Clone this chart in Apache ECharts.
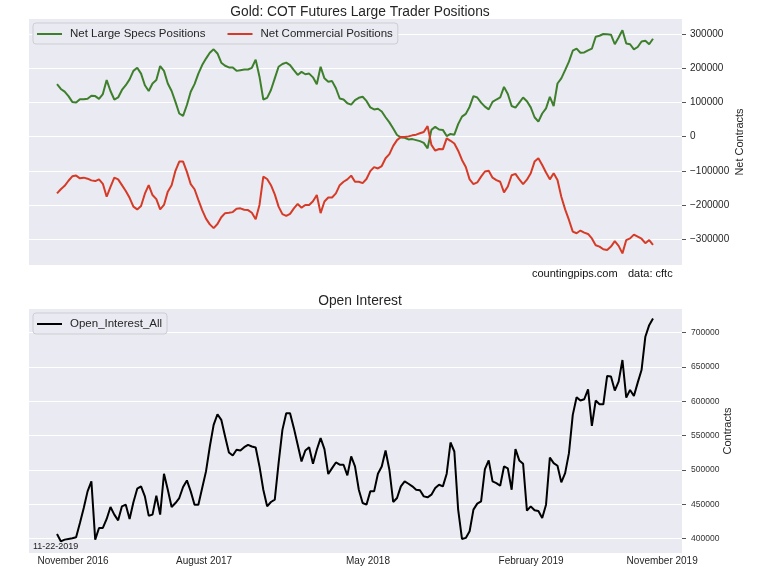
<!DOCTYPE html>
<html>
<head>
<meta charset="utf-8">
<script src="https://cdn.jsdelivr.net/npm/echarts@6/dist/echarts.min.js"></script>
<style>
  html, body { margin: 0; padding: 0; background: #fff; }
  #chart { width: 762px; height: 576px; }
</style>
</head>
<body>
<div id="chart"></div>
<script>
// weekly COT readings, thousands of contracts (Nov 2016 -> Nov 2019)
var largeSpecs = [
  154, 140, 132, 119, 102, 100, 110, 110, 111, 120,
  119, 111, 125, 166, 134, 109, 115, 137, 151, 168,
  193, 202, 185, 151, 134, 156, 166, 207, 193, 156,
  134, 102, 68, 61, 93, 132, 154, 185, 210, 229,
  246, 256, 244, 217, 208, 203, 203, 193, 195, 197,
  197, 202, 226, 176, 109, 114, 137, 171, 205, 213,
  217, 210, 195, 181, 190, 183, 185, 174, 154, 205,
  171, 161, 163, 142, 112, 109, 98, 94, 107, 114,
  117, 105, 86, 80, 82, 74, 57, 42, 24, 5,
  -2, -3, -8, -7, -10, -13, -18, -34, 20, 29,
  21, 20, 2, 8, 6, 37, 59, 67, 88, 119,
  115, 100, 88, 80, 102, 109, 115, 146, 125, 90,
  85, 100, 115, 104, 86, 57, 44, 68, 83, 117,
  90, 156, 171, 195, 220, 252, 258, 246, 247, 253,
  258, 293, 296, 301, 300, 299, 271, 291, 312, 273,
  271, 256, 263, 279, 281, 271, 287
];

var commercial = [
  -166, -154, -144, -129, -116, -114, -122, -120, -123, -128,
  -130, -125, -138, -176, -147, -120, -125, -142, -159, -179,
  -205, -213, -203, -167, -142, -171, -183, -213, -200, -161,
  -142, -100, -73, -73, -103, -139, -154, -185, -215, -240,
  -257, -268, -256, -236, -224, -223, -221, -211, -210, -214,
  -215, -223, -242, -200, -117, -124, -142, -169, -205, -227,
  -232, -226, -210, -197, -208, -200, -200, -189, -171, -224,
  -190, -178, -178, -166, -142, -132, -125, -114, -132, -132,
  -136, -124, -101, -89, -93, -86, -63, -51, -27, -10,
  -1, -1, 1, 4, 6, 10, 14, 31, -24, -41,
  -36, -37, -5, -12, -20, -41, -68, -89, -125, -139,
  -134, -117, -102, -100, -120, -127, -132, -163, -146, -113,
  -109, -125, -139, -126, -107, -73, -63, -83, -105, -125,
  -107, -127, -176, -213, -244, -278, -283, -275, -281, -285,
  -298, -318, -322, -330, -332, -322, -306, -320, -342, -303,
  -298, -287, -293, -299, -312, -303, -317
];

var openInterest = [
  406.8, 396, 398.5, 399.5, 400.5, 402, 422.8, 444.6, 468.8, 483.3,
  398.5, 415.5, 415.5, 428.6, 446, 434.9, 426.6, 447, 449.4, 428.6,
  452.8, 472.7, 476.1, 461.5, 433.4, 434.9, 462.5, 434.9, 494.5, 471.2,
  446, 451.8, 459.1, 475.1, 484.8, 468.8, 449.4, 449.4, 473.6, 497.9,
  534.2, 565.7, 581.2, 573, 548.7, 525.5, 521.1, 529.4, 528.4, 533.2,
  536.6, 534.2, 532.8, 505.1, 471.2, 447, 453.3, 456.7, 510, 558.4,
  582.7, 582.7, 560.9, 536.6, 512.4, 528.4, 533.2, 509, 529.4, 546.3,
  530.3, 494, 502.7, 510.9, 507.6, 507.6, 492.1, 519.7, 505.1, 471.2,
  451.8, 449.4, 468.8, 468.8, 494.5, 505.1, 528.4, 500.3, 453.3, 459.1,
  476.1, 483.3, 479.9, 476.1, 471.2, 470.3, 461.5, 460.1, 464, 473.6,
  478.5, 476.1, 494.5, 540, 526.9, 442.2, 399.5, 401, 410.7, 442.2,
  450.9, 454.3, 501.3, 513.9, 483.3, 480.9, 477, 505.1, 502.2, 471.2,
  530.3, 513.9, 509, 440.7, 447, 441.2, 440.2, 430, 449.4, 518.2,
  510, 506.1, 481.9, 495.4, 524.5, 580.2, 605.9, 601.1, 603, 617.5,
  564.2, 601.1, 595.7, 595.7, 636.9, 636, 615.6, 628.7, 660.2, 605.4,
  616.6, 607.8, 627.2, 645.6, 694.1, 711, 720.7
];

// bottom date labels, placed at week index
var xTickPos = [4.2, 38.5, 81.4, 124.1, 158.4];
var xTickLabels = ['November 2016', 'August 2017', 'May 2018', 'February 2019', 'November 2019'];

var netTicks = [-300000, -200000, -100000, 0, 100000, 200000, 300000];
var oiTicks = [400000, 450000, 500000, 550000, 600000, 650000, 700000];

var BG = '#EAEAF2';
var TXT = '#262626';
var FONT = '"Liberation Sans", Arial, sans-serif';

var toPairs = (arr) => arr.map((v, i) => [i, Math.round(v * 1000)]);
var minus = (v) => String(v).replace('-', '\u2212');

var chart = echarts.init(document.getElementById('chart'), null, { renderer: 'canvas' });

var xBase = {
  type: 'value',
  min: -7.33,
  max: 163.59,
  axisLine: { show: false, onZero: false },
  axisTick: { show: false },
  splitLine: { show: false },
};

var legendBase = {
  left: 33,
  icon: 'rect',
  itemWidth: 25,
  itemHeight: 2,
  itemGap: 22,
  padding: [5, 5, 4, 4],
  backgroundColor: BG,
  borderColor: '#cdcdd3',
  borderWidth: 1,
  borderRadius: 3,
  textStyle: { fontSize: 11.5, color: TXT, fontFamily: FONT, padding: [0, 0, 0, 3] },
};

var option = {
  animation: false,
  textStyle: { fontFamily: FONT },
  title: [
    {
      text: 'Gold: COT Futures Large Trader Positions',
      left: 355, top: 0, textAlign: 'center',
      textStyle: { fontSize: 13.8, fontWeight: 'normal', color: TXT, fontFamily: FONT },
    },
    {
      text: 'Open Interest',
      left: 355, top: 289, textAlign: 'center',
      textStyle: { fontSize: 13.8, fontWeight: 'normal', color: TXT, fontFamily: FONT },
    },
  ],
  legend: [
    Object.assign({}, legendBase, {
      top: 23,
      data: ['Net Large Specs Positions', 'Net Commercial Positions'],
    }),
    Object.assign({}, legendBase, {
      top: 313,
      data: ['Open_Interest_All'],
    }),
  ],
  grid: [
    { left: 29, top: 19, width: 653, height: 246, show: true, backgroundColor: BG, borderWidth: 0 },
    { left: 29, top: 309, width: 653, height: 244, show: true, backgroundColor: BG, borderWidth: 0 },
  ],
  xAxis: [
    Object.assign({}, xBase, { gridIndex: 0, axisLabel: { show: false } }),
    Object.assign({}, xBase, {
      gridIndex: 1,
      axisLabel: {
        customValues: xTickPos,
        margin: 3,
        fontSize: 10,
        color: TXT,
        formatter: (v) => xTickLabels[xTickPos.indexOf(v)] || '',
      },
    }),
  ],
  yAxis: [
    {
      gridIndex: 0,
      type: 'value',
      position: 'right',
      min: -376000,
      max: 345000,
      axisLine: { show: false, onZero: false },
      axisTick: { show: true, length: 4, customValues: netTicks, lineStyle: { color: '#555' } },
      axisLabel: { customValues: netTicks, fontSize: 10, color: TXT, margin: 8, formatter: minus },
      splitLine: { show: true, lineStyle: { color: '#fff', width: 1.2 } },
      name: 'Net Contracts',
      nameLocation: 'middle',
      nameRotate: 90,
      nameGap: 52,
      nameMoveOverlap: false,
      nameTextStyle: { fontSize: 11, color: TXT },
    },
    {
      gridIndex: 1,
      type: 'value',
      position: 'right',
      min: 379000,
      max: 734500,
      axisLine: { show: false, onZero: false },
      axisTick: { show: true, length: 4, customValues: oiTicks, lineStyle: { color: '#555' } },
      axisLabel: { customValues: oiTicks, fontSize: 8.5, color: '#333', margin: 9, formatter: (v) => String(v) },
      splitLine: { show: true, lineStyle: { color: '#fff', width: 1.2 } },
      name: 'Contracts',
      nameLocation: 'middle',
      nameRotate: 90,
      nameGap: 40,
      nameMoveOverlap: false,
      nameTextStyle: { fontSize: 11, color: TXT },
    },
  ],
  series: [
    {
      name: 'Net Large Specs Positions',
      type: 'line',
      xAxisIndex: 0, yAxisIndex: 0,
      showSymbol: false,
      color: '#3d7f2b',
      lineStyle: { width: 2 },
      data: toPairs(largeSpecs),
    },
    {
      name: 'Net Commercial Positions',
      type: 'line',
      xAxisIndex: 0, yAxisIndex: 0,
      showSymbol: false,
      color: '#d53b26',
      lineStyle: { width: 2 },
      data: toPairs(commercial),
    },
    {
      name: 'Open_Interest_All',
      type: 'line',
      xAxisIndex: 1, yAxisIndex: 1,
      showSymbol: false,
      color: '#000',
      lineStyle: { width: 2 },
      data: toPairs(openInterest),
    },
  ],
  graphic: [
    { type: 'text', left: 532, top: 268, style: { text: 'countingpips.com', font: '11px ' + FONT, fill: '#111' } },
    { type: 'text', left: 628, top: 268, style: { text: 'data: cftc', font: '11px ' + FONT, fill: '#111' } },
    { type: 'text', left: 33, top: 542, style: { text: '11-22-2019', font: '9px ' + FONT, fill: '#222' } },
  ],
};

chart.setOption(option);
</script>
</body>
</html>
